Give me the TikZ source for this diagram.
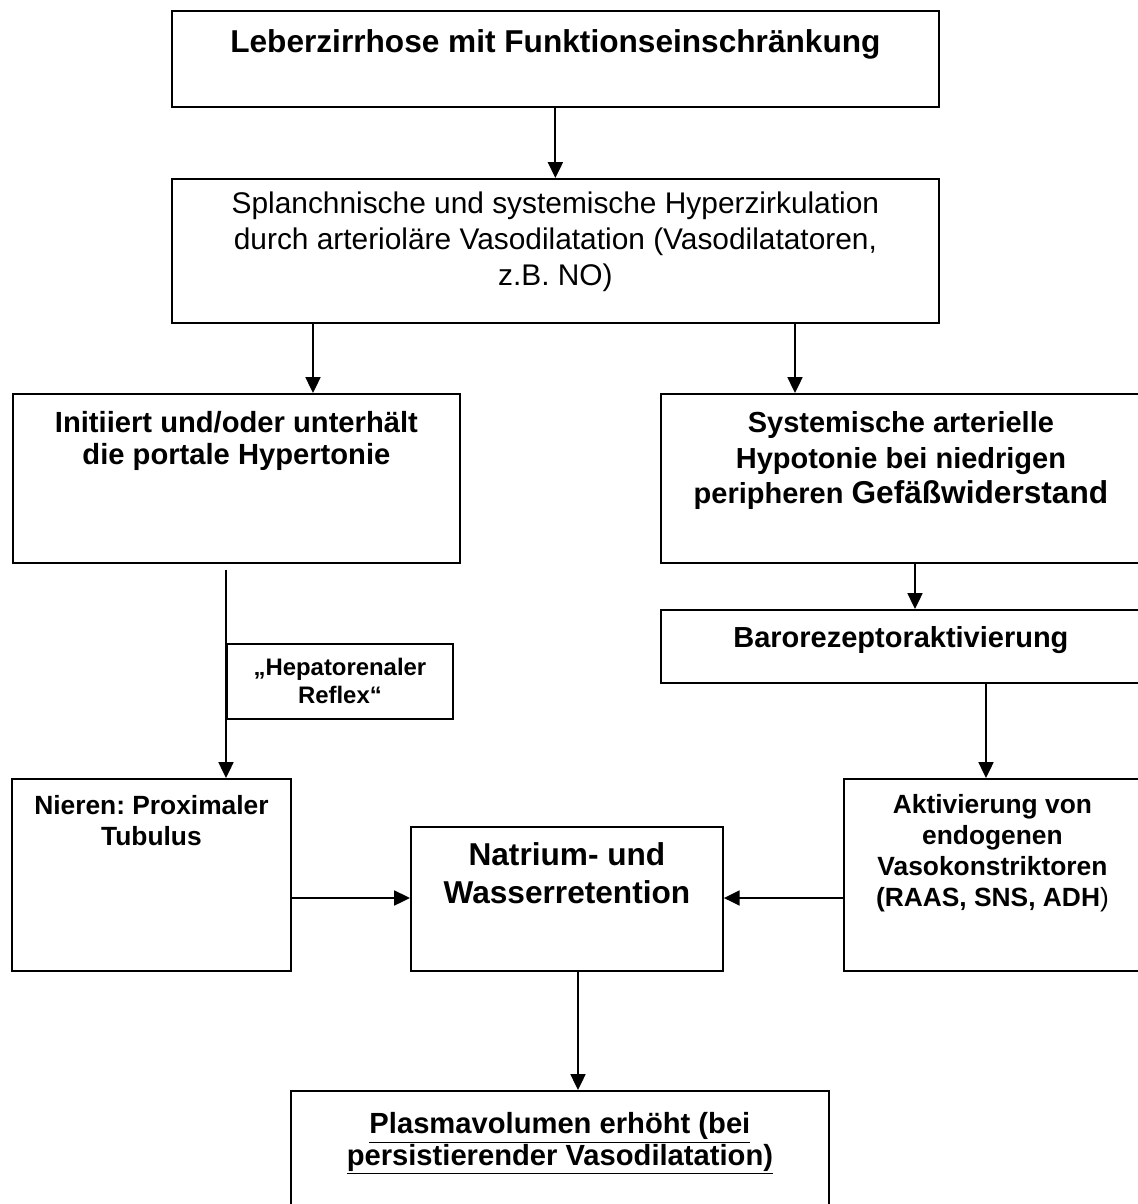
\documentclass[tikz,border=0pt]{standalone}
\usepackage{fontspec}
\setmainfont{Liberation Sans}
\usetikzlibrary{arrows.meta}
\frenchspacing

% Breite, Hoehe, erste Grundlinie, Schrift, Text
\newcommand{\kastentext}[5]{\parbox[t][#2][t]{#1}{\centering#4\rule{0pt}{#3}#5}}

\begin{document}
\begin{tikzpicture}[x=0.02cm, y=-0.02cm]
	\tikzset{kasten/.style={draw, line width=1.1pt, inner sep=0pt, anchor=north west},
		pfeil/.style={-{Triangle[length=9pt, width=8.5pt]}, line width=1.1pt}}
	\useasboundingbox (0,0) rectangle (1138,1204);
	\clip (0,0) rectangle (1138,1204);
	
	\node[kasten] (leber) at (171,10) {\kastentext{15.34cm}{1.92cm}{0.84cm}{\fontsize{18}{21}\selectfont\bfseries}{Leberzirrhose mit Funktionseinschränkung}};
	\node[kasten] (splanch) at (171,178) {\kastentext{15.34cm}{2.88cm}{0.70cm}{\fontsize{17}{20.3}\selectfont}{Splanchnische und systemische Hyperzirkulation\\ durch arterioläre Vasodilatation (Vasodilatatoren,\\ z.B. NO)}};
	\node[kasten] (portal) at (12,393) {\kastentext{8.94cm}{3.38cm}{0.78cm}{\fontsize{16.6}{18}\selectfont\bfseries}{Initiiert und/oder unterhält\\ die portale Hypertonie}};
	\node[kasten] (hypot) at (660,393) {\kastentext{9.6cm}{3.38cm}{0.78cm}{\fontsize{16.5}{20}\selectfont\bfseries}{Systemische arterielle\\ Hypotonie bei niedrigen\\ peripheren {\fontsize{18}{20}\selectfont Gefäßwiderstand}}};
	\node[kasten] (baro) at (660,609) {\kastentext{9.6cm}{1.46cm}{0.76cm}{\fontsize{16.5}{20}\selectfont\bfseries}{Barorezeptoraktivierung}};
	\node[kasten] (reflex) at (226,643) {\kastentext{4.52cm}{1.5cm}{0.64cm}{\fontsize{13.6}{15.4}\selectfont\bfseries}{„Hepatorenaler\\ Reflex“}};
	\node[kasten] (nieren) at (11,778) {\kastentext{5.58cm}{3.84cm}{0.72cm}{\fontsize{15}{17.4}\selectfont\bfseries}{Nieren: Proximaler\\ Tubulus}};
	\node[kasten] (natrium) at (410,826) {\kastentext{6.24cm}{2.88cm}{0.78cm}{\fontsize{18}{21.6}\selectfont\bfseries}{Natrium- und\\ Wasserretention}};
	\node[kasten] (vasok) at (843,778) {\kastentext{5.94cm}{3.84cm}{0.70cm}{\fontsize{15}{17.6}\selectfont\bfseries}{Aktivierung von\\ endogenen\\ Vasokonstriktoren\\ (RAAS, SNS, ADH\textmd{)}}};
	\node[kasten] (plasma) at (290,1090) {\kastentext{10.76cm}{3cm}{0.86cm}{\fontsize{16.6}{17.8}\selectfont\bfseries}{\underline{Plasmavolumen erhöht (bei}\\ \underline{persistierender Vasodilatation)}}};
	
	\coordinate (links) at (313,0);
	\coordinate (rechts) at (795,0);
	\coordinate (baroab) at (915,0);
	\coordinate (vasoab) at (986,0);
	\coordinate (mitte) at (0,898);
	\coordinate (unten) at (578,0);
	
	\draw[pfeil] (leber) -- (splanch);
	\draw[pfeil] (splanch.south -| links) -- (portal.north -| links);
	\draw[pfeil] (splanch.south -| rechts) -- (hypot.north -| rechts);
	\draw[pfeil] (hypot.south -| baroab) -- (baro.north -| baroab);
	\draw[pfeil] (baro.south -| vasoab) -- (vasok.north -| vasoab);
	\draw[pfeil, shorten <=3.4pt] (portal.south -| reflex.west) -- (nieren.north -| reflex.west);
	\draw[pfeil] (nieren.east |- mitte) -- (natrium.west |- mitte);
	\draw[pfeil] (vasok.west |- mitte) -- (natrium.east |- mitte);
	\draw[pfeil] (natrium.south -| unten) -- (plasma.north -| unten);
\end{tikzpicture}
\end{document}
